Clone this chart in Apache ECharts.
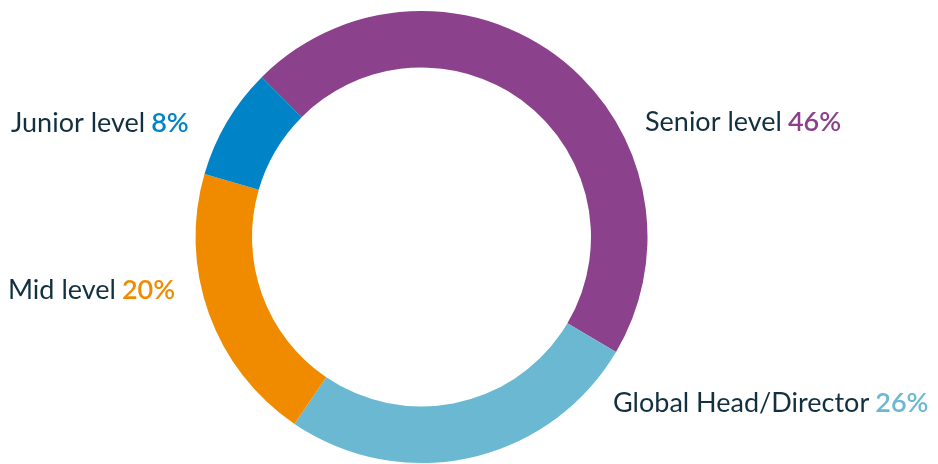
<!DOCTYPE html>
<html>
<head>
<meta charset="utf-8">
<script src="https://cdn.jsdelivr.net/npm/echarts@6/dist/echarts.min.js"></script>
<style>
  html, body { margin: 0; padding: 0; background: #ffffff; }
  #chart { width: 938px; height: 464px; }
</style>
</head>
<body>
<div id="chart"></div>
<script>
// Share of respondents by seniority level (percent), clockwise from the top-left
const categories = ['Senior level', 'Global Head/Director', 'Mid level', 'Junior level'];
const shares = [46, 26, 20, 8];
const sliceColors = ['#8b418b', '#6bb8d2', '#f08b00', '#0084c7'];
const richKeys = ['sen', 'glo', 'mid', 'jun'];

// Where each label's left/middle point sits
const labelAnchors = [
  [645, 122],
  [613, 403],
  [8, 290],
  [11, 123]
];

const FONT = "'Source Sans Pro', Lato, 'Open Sans', sans-serif";
const TEXT_COLOR = '#12303f';
const FONT_SIZE = 27;

const rich = { name: { color: TEXT_COLOR, fontSize: FONT_SIZE, fontFamily: FONT, fontWeight: 400 } };
richKeys.forEach((k, i) => {
  rich[k] = {
    color: sliceColors[i], fontSize: FONT_SIZE, fontFamily: FONT, fontWeight: 600,
    padding: [0, 0, 0, 6]
  };
});

const chart = echarts.init(document.getElementById('chart'), null, { renderer: 'canvas' });

chart.setOption({
  animation: false,
  series: [{
    type: 'pie',
    center: [421.5, 237],
    radius: [169.5, 226],
    startAngle: 135,
    clockwise: true,
    avoidLabelOverlap: false,
    silent: true,
    data: categories.map((name, i) => ({
      name: name,
      value: shares[i],
      itemStyle: { color: sliceColors[i] },
      label: { formatter: '{name|' + name + '}{' + richKeys[i] + '|' + shares[i] + '%}' }
    })),
    label: {
      show: true,
      position: 'outside',
      rich: rich
    },
    labelLine: { show: false },
    labelLayout: function (params) {
      const a = labelAnchors[params.dataIndex];
      return { x: a[0], y: a[1], align: 'left', verticalAlign: 'middle' };
    }
  }]
});
</script>
</body>
</html>
